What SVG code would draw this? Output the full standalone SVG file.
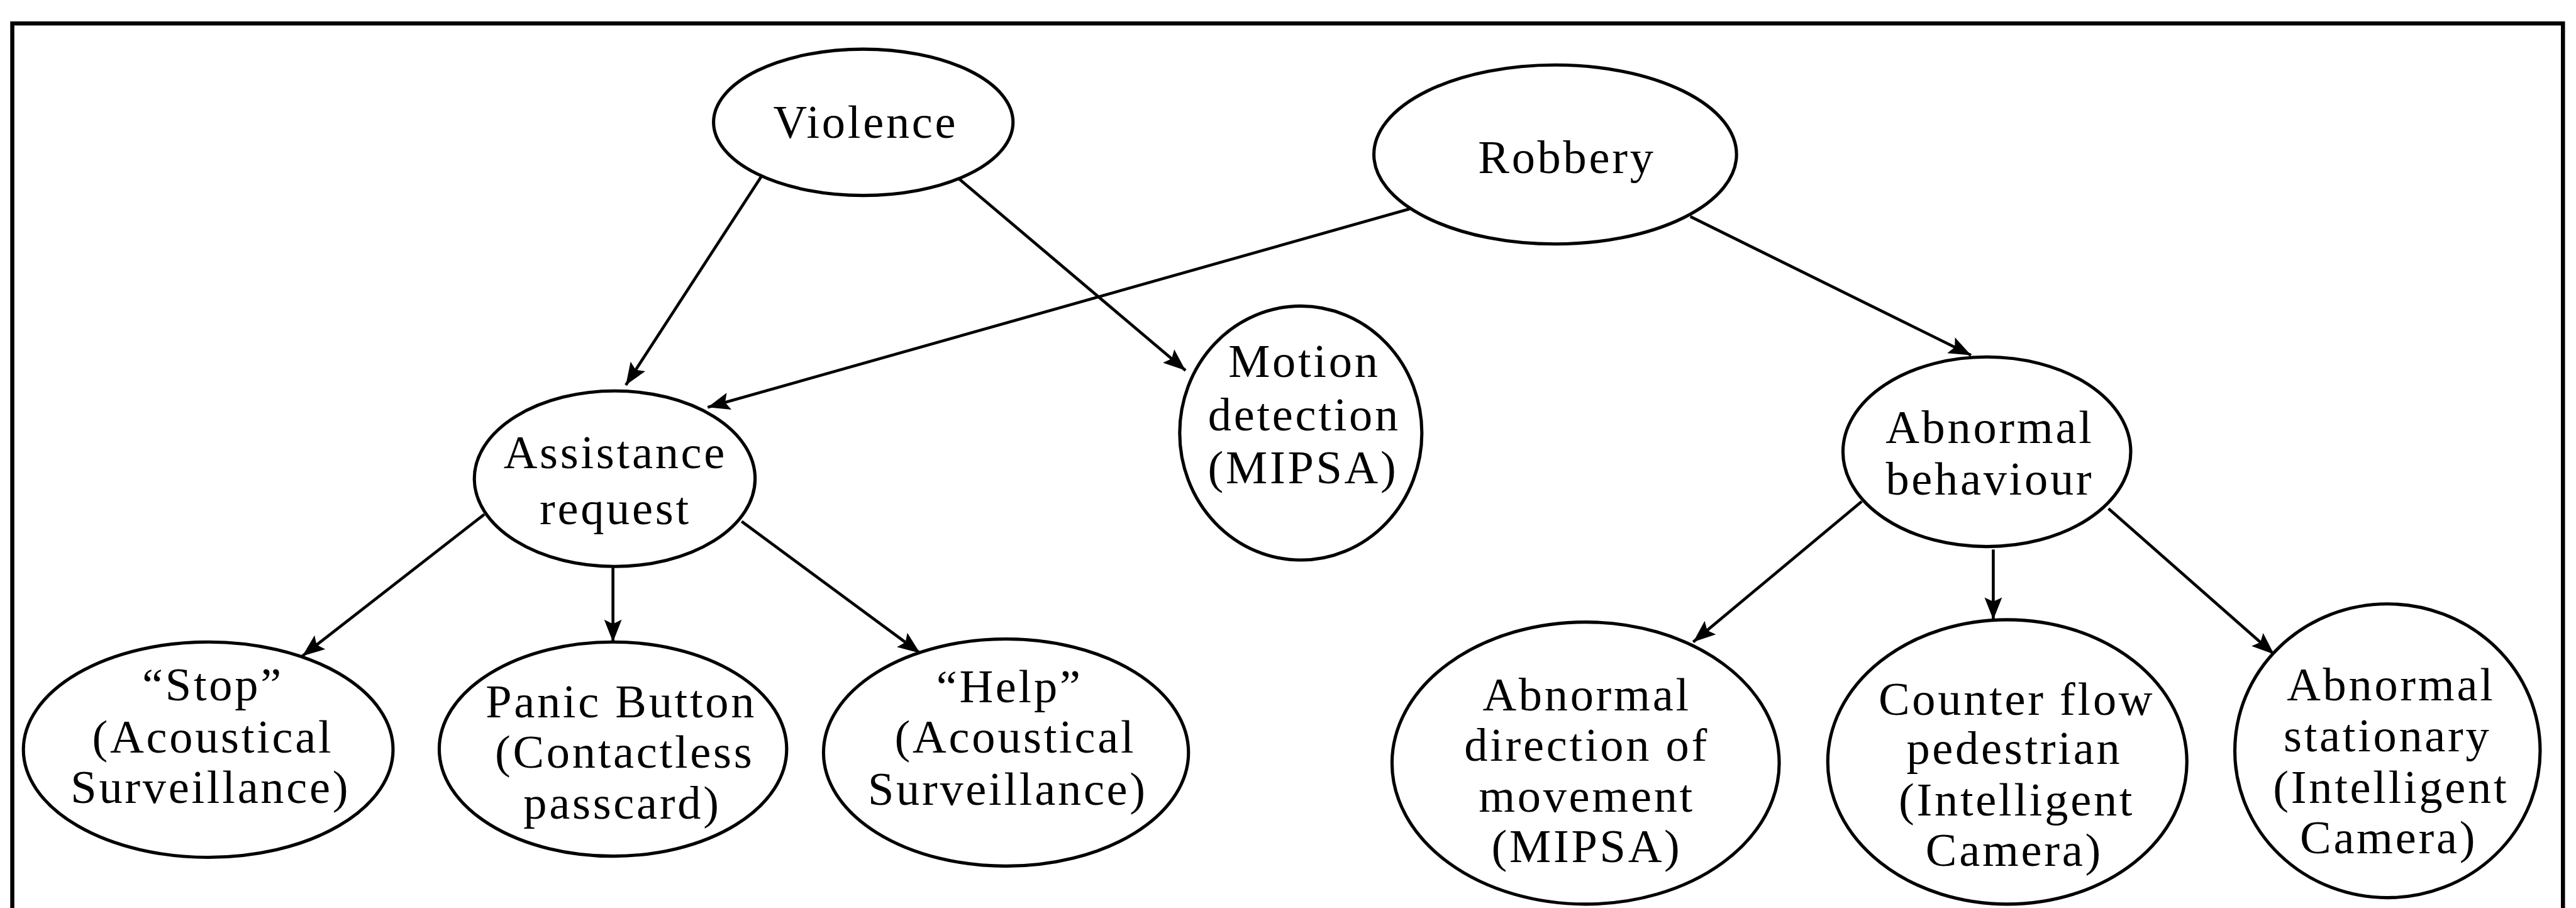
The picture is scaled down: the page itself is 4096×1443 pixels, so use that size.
<svg xmlns="http://www.w3.org/2000/svg" width="4096" height="1443" viewBox="0 0 4096 1443">
<style>
.n{fill:#fff;stroke:#000;stroke-width:5.5}
.t{font-family:"Liberation Serif","Times New Roman",serif;font-size:80px;letter-spacing:4px;fill:#000;text-anchor:middle}
.c line{stroke:#000;stroke-width:5;marker-end:url(#ah)}
</style>
<defs>
<marker id="ah" markerUnits="userSpaceOnUse" viewBox="-42 -18 44 36" refX="0" refY="0" markerWidth="44" markerHeight="36" orient="auto">
<path d="M0,0 L-38,-15 L-31,0 L-38,15 Z" fill="#000"/>
</marker>
</defs>
<rect width="4096" height="1443" fill="#fff"/>
<g transform="scale(0.93)">
<path d="M21,1560 V40 H4382 V1560" fill="none" stroke="#000" stroke-width="7"/>
<g class="c" id="connectors">
<line x1="1302" y1="301" x2="1070" y2="658"/>
<line x1="1640" y1="306" x2="2027" y2="633"/>
<line x1="2410" y1="357" x2="1210" y2="696"/>
<line x1="2890" y1="370" x2="3370" y2="607"/>
<line x1="828" y1="879" x2="517" y2="1121"/>
<line x1="1048" y1="970" x2="1048" y2="1097"/>
<line x1="1268" y1="891" x2="1573" y2="1116"/>
<line x1="3183" y1="857" x2="2895" y2="1097"/>
<line x1="3408" y1="939" x2="3408" y2="1059"/>
<line x1="3605" y1="869" x2="3888" y2="1118"/>
</g>
<g id="violence"><ellipse class="n" cx="1476" cy="209" rx="256" ry="125"/><text class="t" x="1480" y="235">Violence</text></g>
<g id="robbery"><ellipse class="n" cx="2659" cy="264" rx="310" ry="153"/><text class="t" x="2679" y="296">Robbery</text></g>
<g id="motion"><ellipse class="n" cx="2224" cy="740" rx="207" ry="217"/><text class="t" x="2230" y="644">Motion</text><text class="t" x="2230" y="735">detection</text><text class="t" x="2228" y="826">(MIPSA)</text></g>
<g id="assistance"><ellipse class="n" cx="1051" cy="818" rx="240" ry="150"/><text class="t" x="1052" y="800">Assistance</text><text class="t" x="1052" y="896">request</text></g>
<g id="stop"><ellipse class="n" cx="356" cy="1281" rx="316" ry="184"/><text class="t" x="364" y="1197">“Stop”</text><text class="t" x="364" y="1286">(Acoustical</text><text class="t" x="360" y="1372">Surveillance)</text></g>
<g id="panic"><ellipse class="n" cx="1048" cy="1280" rx="297" ry="183"/><text class="t" x="1062" y="1226">Panic Button</text><text class="t" x="1068" y="1312">(Contactless</text><text class="t" x="1064" y="1399">passcard)</text></g>
<g id="help"><ellipse class="n" cx="1720" cy="1286" rx="312" ry="194"/><text class="t" x="1726" y="1200">“Help”</text><text class="t" x="1736" y="1286">(Acoustical</text><text class="t" x="1723" y="1375">Surveillance)</text></g>
<g id="abnormal-behaviour"><ellipse class="n" cx="3397" cy="772" rx="246" ry="162"/><text class="t" x="3402" y="757">Abnormal</text><text class="t" x="3402" y="845">behaviour</text></g>
<g id="abnormal-direction"><ellipse class="n" cx="2711" cy="1304" rx="331" ry="241"/><text class="t" x="2713" y="1214">Abnormal</text><text class="t" x="2713" y="1300">direction of</text><text class="t" x="2713" y="1387">movement</text><text class="t" x="2713" y="1473">(MIPSA)</text></g>
<g id="counter-flow"><ellipse class="n" cx="3432" cy="1302" rx="307" ry="243"/><text class="t" x="3448" y="1221">Counter flow</text><text class="t" x="3444" y="1305">pedestrian</text><text class="t" x="3448" y="1394">(Intelligent</text><text class="t" x="3444" y="1480">Camera)</text></g>
<g id="abnormal-stationary"><ellipse class="n" cx="4082" cy="1283" rx="261" ry="251"/><text class="t" x="4088" y="1197">Abnormal</text><text class="t" x="4082" y="1284">stationary</text><text class="t" x="4088" y="1372">(Intelligent</text><text class="t" x="4084" y="1458">Camera)</text></g>
</g>
</svg>
